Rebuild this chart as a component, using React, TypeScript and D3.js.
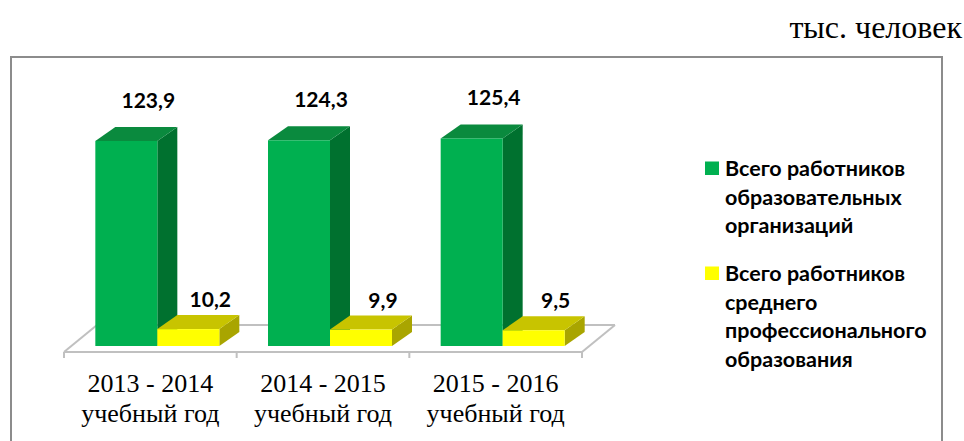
import React from "react";
import * as d3 from "d3";

const categories = ["2013 - 2014|учебный год", "2014 - 2015|учебный год", "2015 - 2016|учебный год"];
const seriesNames = [
  "Всего работников|образовательных|организаций",
  "Всего работников|среднего|профессионального|образования",
];
const totalWorkers = [123.9, 124.3, 125.4];
const spoWorkers = [10.2, 9.9, 9.5];
const unitLabel = "тыс. человек";

const W = 964;
const H = 441;

const faceColors = [
  { front: "#00b050", top: "#0a8a3e", side: "#00712f" },
  { front: "#ffff00", top: "#c8c400", side: "#a9a500" },
];
const labelLift = [33, 22];
const legendTop = [176, 281];

export default function App() {
  const series = [totalWorkers, spoWorkers];
  const floorFrontY = 352;
  const floorLeft = 64;
  const floorRight = 582;
  const floorDx = 33;
  const floorDy = 27;
  const barOff = { dx: 7, dy: 6 };
  const depth = { dx: 20, dy: 14 };

  const x0 = d3.scaleBand<number>().domain(d3.range(categories.length)).range([floorLeft, floorRight]).paddingInner(0).paddingOuter(0);
  const inner = 124 / x0.bandwidth();
  const x1 = d3.scaleBand<number>().domain(d3.range(series.length)).range([0, x0.bandwidth()]).paddingOuter((1 - inner) / (1) * 0.5 / inner * 2).paddingInner(0);
  const baseY = floorFrontY - barOff.dy;
  const y = d3.scaleLinear().domain([0, 140]).range([baseY, baseY - 231.7]);

  const ticks = d3.range(categories.length + 1).map((i) => floorLeft + i * x0.bandwidth());

  const bars: any[] = [];
  categories.forEach((_, ci) => {
    series.forEach((vals, si) => {
      const v = vals[ci];
      const xl = (x0(ci) as number) + (x1(si) as number) + barOff.dx;
      const w = x1.bandwidth();
      const yt = y(v);
      bars.push({ ci, si, v, xl, w, yt });
    });
  });

  const fmt = (v: number) => v.toFixed(1).replace(".", ",");

  return (
    <svg width={W} height={H} style={{ position: "absolute", left: 0, top: 0, background: "#fff" }}>
      <text x={962} y={38} textAnchor="end" fontFamily="'Liberation Serif', 'Times New Roman', serif" fontSize={32} fill="#000">
        {unitLabel}
      </text>
      <rect x={11} y={57} width={931} height={420} fill="none" stroke="#8c8c8c" strokeWidth={2} />

      {/* floor */}
      <g stroke="#c0c0c0" strokeWidth={2} fill="none">
        <line x1={floorLeft + floorDx} y1={floorFrontY - floorDy} x2={floorRight + floorDx} y2={floorFrontY - floorDy} />
        <line x1={floorLeft} y1={floorFrontY} x2={floorLeft + floorDx} y2={floorFrontY - floorDy} />
        <line x1={floorRight} y1={floorFrontY} x2={floorRight + floorDx} y2={floorFrontY - floorDy} />
        <line x1={floorLeft} y1={floorFrontY} x2={floorRight} y2={floorFrontY} />
        {ticks.map((t, i) => (
          <line key={i} x1={t} y1={floorFrontY} x2={t} y2={floorFrontY + 6} />
        ))}
      </g>

      {bars.map((b, i) => {
        const c = faceColors[b.si];
        const { xl, w, yt } = b;
        const xr = xl + w;
        const top = `M${xl},${yt} L${xl + depth.dx},${yt - depth.dy} L${xr + depth.dx},${yt - depth.dy} L${xr},${yt} Z`;
        const side = `M${xr},${yt} L${xr + depth.dx},${yt - depth.dy} L${xr + depth.dx},${baseY - depth.dy} L${xr},${baseY} Z`;
        return (
          <g key={i}>
            <path d={side} fill={c.side} />
            <path d={top} fill={c.top} />
            <rect x={xl} y={yt} width={w} height={baseY - yt} fill={c.front} />
          </g>
        );
      })}

      {bars.map((b, i) => (
        <text
          key={"l" + i}
          x={b.xl + b.w / 2 + 22}
          y={b.yt - labelLift[b.si]}
          textAnchor="middle"
          fontFamily="Lato, 'Open Sans', sans-serif"
          fontWeight="bold"
          fontSize={21}
          fill="#000"
        >
          {fmt(b.v)}
        </text>
      ))}

      {categories.map((c, i) => {
        const cx = (x0(i) as number) + x0.bandwidth() / 2;
        return (
          <text key={"c" + i} x={cx} textAnchor="middle" fontFamily="'Liberation Serif', 'Times New Roman', serif" fontSize={26} fill="#000">
            {c.split("|").map((ln, j) => (
              <tspan key={j} x={cx} y={392 + j * 29.5}>
                {ln}
              </tspan>
            ))}
          </text>
        );
      })}

      {seriesNames.map((s, si) => {
        const top = legendTop[si];
        return (
          <g key={"lg" + si}>
            <rect x={705} y={top - 14.5} width={14} height={13.5} fill={faceColors[si].front} />
            <text fontFamily="Lato, 'Open Sans', sans-serif" fontWeight="bold" fontSize={21.5} fill="#000">
              {s.split("|").map((ln, j) => (
                <tspan key={j} x={725} y={top + j * 28.5}>
                  {ln}
                </tspan>
              ))}
            </text>
          </g>
        );
      })}
    </svg>
  );
}
